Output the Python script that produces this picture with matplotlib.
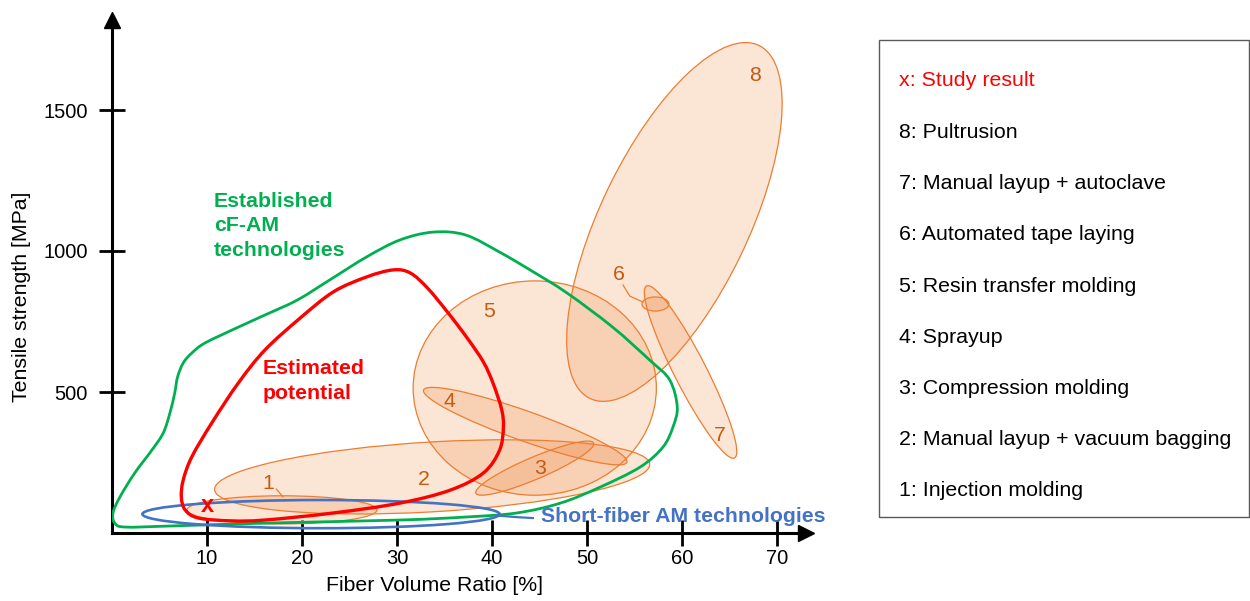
import numpy as np
import matplotlib
matplotlib.use("Agg")
import matplotlib.pyplot as plt
from matplotlib.path import Path
from matplotlib.patches import PathPatch, Circle, Rectangle
from matplotlib.transforms import Affine2D

plt.rcParams['font.family'] = ['Liberation Sans', 'DejaVu Sans']

# ---------------- data ----------------
x_ticks = [10, 20, 30, 40, 50, 60, 70]
y_ticks = [500, 1000, 1500]

# process ellipses (1..8): centre and two semi-axis vectors in data units
ell_labels = ['1', '2', '3', '4', '5', '6', '7', '8']
ell_cx = [17.9, 33.7, 44.5, 43.5, 44.5, 57.2, 60.9, 59.2]
ell_cy = [82, 199, 230, 379, 514, 812, 571, 1103]
ell_ax = [10.0, 22.9, 6.2, 10.7, 12.8, 1.42, 4.63, 9.0]
ell_ay = [0, 44, 89, -128, 0, 0, -305, 624]
ell_bx = [0, 0, 0.45, -0.53, 0, 0, 1.5, 6.9]
ell_by = [50, 124, -36, -50, 380, 25, 26, -124]
ell_lab_x = [16.4, 32.8, 45.1, 35.5, 39.7, 53.4, 64.0, 67.7]
ell_lab_y = [174, 188, 230, 465, 784, 918, 344, 1624]

# established cF-AM technologies outline
green_x = [1.4, 0.3, 0.1, 0.84, 2.4, 4.2, 5.4, 6.1, 6.6, 6.9, 7.5, 8.4, 9.8, 13.3,
           16.1, 19.5, 22.9, 26.8, 30.3, 33.8, 37.2, 40.8, 44.0, 47.9, 52.7, 56.6,
           58.7, 59.5, 59.05, 58.0, 55.6, 51.4, 47.2, 42.6, 37.4, 30.3, 16.1, 6.3]
green_y = [21, 35, 71, 128, 213, 294, 355, 426, 496, 553, 603, 638, 674, 730,
           773, 826, 897, 979, 1039, 1067, 1057, 996, 933, 851, 730, 613,
           543, 447, 376, 305, 234, 163, 106, 71, 57, 46, 35, 25]

# estimated potential outline
red_x = [29.6, 31.4, 33.2, 35.3, 37.4, 39.1, 40.1, 41.0, 41.2, 40.8, 39.1, 35.6,
         30.3, 23.3, 16.1, 12.6, 9.1, 7.7, 7.3, 7.5, 8.4, 10.5, 13.3, 16.1, 19.8,
         23.3, 26.8]
red_y = [933, 922, 869, 784, 691, 606, 532, 440, 376, 294, 213, 152,
         106, 71, 46, 43, 53, 82, 128, 188, 270, 390, 532, 649, 762,
         855, 908]

# short-fiber AM technologies region
blue_cx, blue_cy, blue_rx, blue_ry = 22.0, 67, 18.8, 50
blue_tail_x = [40.5, 42.7, 44.3]
blue_tail_y = [62, 56, 53]

study_x, study_y = 10, 99

legend_items = ['x: Study result', '8: Pultrusion', '7: Manual layup + autoclave',
                '6: Automated tape laying', '5: Resin transfer molding', '4: Sprayup',
                '3: Compression molding', '2: Manual layup + vacuum bagging',
                '1: Injection molding']
legend_colors = ['#FF0000'] + ['black'] * 8

# ---------------- helpers ----------------
def smooth_closed(xs, ys):
    P = np.column_stack([xs, ys]).astype(float)
    n = len(P)
    verts = [P[0]]
    codes = [Path.MOVETO]
    for i in range(n):
        p0, p1, p2, p3 = P[i - 1], P[i], P[(i + 1) % n], P[(i + 2) % n]
        c1 = p1 + (p2 - p0) / 6.0
        c2 = p2 - (p3 - p1) / 6.0
        verts += [c1, c2, p2]
        codes += [Path.CURVE4] * 3
    return Path(verts, codes)

# ---------------- figure ----------------
W, H = 1250, 601
fig = plt.figure(figsize=(12.5, 6.01), dpi=100)
x0, y0, x1, y1 = 112, 533, 806, 20
ax = fig.add_axes([x0 / W, (H - y0) / H, (x1 - x0) / W, (y0 - y1) / H])
px_per_x = 9.5
px_per_y = 0.282
ax.set_xlim(0, (x1 - x0) / px_per_x)
ax.set_ylim(0, (y0 - y1) / px_per_y)

for s in ['top', 'right']:
    ax.spines[s].set_visible(False)
for s in ['left', 'bottom']:
    ax.spines[s].set_linewidth(2.2)
ax.plot(1, 0, '>', color='black', ms=11, transform=ax.transAxes, clip_on=False)
ax.plot(0, 1, '^', color='black', ms=11, transform=ax.transAxes, clip_on=False)

ax.set_xticks(x_ticks)
ax.set_yticks(y_ticks)
ax.tick_params(axis='both', direction='inout', length=19, width=2, labelsize=14.5)
ax.tick_params(axis='x', pad=2)
ax.tick_params(axis='y', pad=8)

ax.set_xlabel('Fiber Volume Ratio [%]', fontsize=15.3)
ax.xaxis.set_label_coords((435 - x0) / (x1 - x0), (y0 - 576) / (y0 - y1))
ax.set_ylabel('Tensile strength [MPa]', fontsize=15.3)
ax.yaxis.set_label_coords((31 - x0) / (x1 - x0), (y0 - 297) / (y0 - y1))

# ellipses
for i in range(len(ell_labels)):
    tr = Affine2D().from_values(ell_ax[i], ell_ay[i], ell_bx[i], ell_by[i],
                                ell_cx[i], ell_cy[i]) + ax.transData
    c = Circle((0, 0), 1, transform=tr, edgecolor='none', zorder=2,
               facecolor=(237 / 255, 125 / 255, 49 / 255, 0.2))
    ax.add_patch(c)
    e = Circle((0, 0), 1, transform=tr, facecolor='none', edgecolor='#ED7D31',
               lw=0.9, zorder=2.1)
    ax.add_patch(e)
    ax.text(ell_lab_x[i], ell_lab_y[i], ell_labels[i], color='#C55A11', fontsize=15.3,
            ha='center', va='center', zorder=5)

# connectors for labels 1 and 6
ax.plot([17.3, 18.0], [156, 128], color='#ED7D31', lw=0.9, zorder=3)
ax.plot([53.8, 54.5, 55.9], [879, 840, 819], color='#ED7D31', lw=0.9, zorder=3)

# outlines
ax.add_patch(PathPatch(smooth_closed(green_x, green_y), facecolor='none',
                       edgecolor='#00B050', lw=2.0, zorder=4))
ax.add_patch(PathPatch(smooth_closed(red_x, red_y), facecolor='none',
                       edgecolor='#FF0000', lw=2.4, zorder=4.2))
trb = Affine2D().from_values(blue_rx, 0, 0, blue_ry, blue_cx, blue_cy) + ax.transData
ax.add_patch(Circle((0, 0), 1, transform=trb, facecolor='none', edgecolor='#4472C4',
                    lw=1.9, zorder=4.1))
ax.plot(blue_tail_x, blue_tail_y, color='#4472C4', lw=1.6, zorder=4.1)

# annotations
ax.text(10.7, 1089, 'Established\ncF-AM\ntechnologies', color='#00B050', fontsize=15.3,
        fontweight='bold', ha='left', va='center', linespacing=1.38, zorder=6)
ax.text(15.9, 539, 'Estimated\npotential', color='#FF0000', fontsize=15.3,
        fontweight='bold', ha='left', va='center', linespacing=1.38, zorder=6)
ax.text(45.2, 60, 'Short-fiber AM technologies', color='#4472C4', fontsize=15.3,
        fontweight='bold', ha='left', va='center', zorder=6)
ax.text(study_x, study_y, 'x', color='#FF0000', fontsize=17, fontweight='bold',
        ha='center', va='center', zorder=6)

# legend box
fig.patches.append(Rectangle((879 / W, (H - 517) / H), (1249 - 879) / W, (517 - 40) / H,
                             transform=fig.transFigure, facecolor='white',
                             edgecolor='#595959', lw=1.0))
for k, (t, c) in enumerate(zip(legend_items, legend_colors)):
    yy = 81 + k * 51.25
    fig.text(899 / W, (H - yy) / H, t, color=c, fontsize=15.4, ha='left', va='center')

fig.savefig('out.png', dpi=100)
